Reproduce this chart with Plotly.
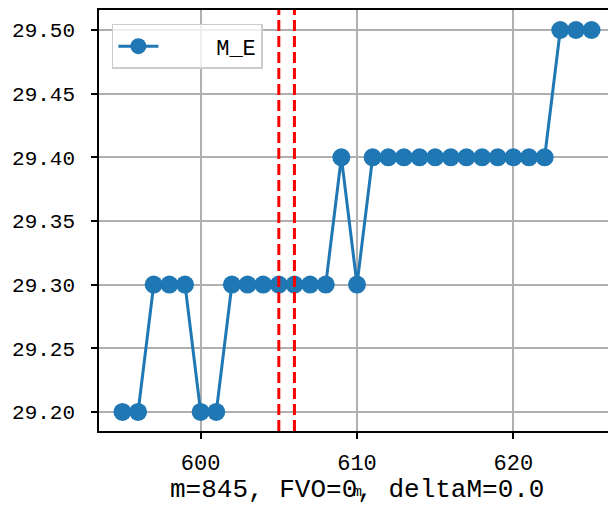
import plotly.graph_objects as go

m_values = list(range(595, 626))
me_values = [29.20, 29.20, 29.30, 29.30, 29.30, 29.20, 29.20, 29.30, 29.30, 29.30,
             29.30, 29.30, 29.30, 29.30, 29.40, 29.30, 29.40, 29.40, 29.40, 29.40,
             29.40, 29.40, 29.40, 29.40, 29.40, 29.40, 29.40, 29.40, 29.50, 29.50, 29.50]
vlines = [605, 606]
series_name = "M_E"
caption = "m=845, FVO=0, deltaM=0.0"
xlabel = "m"

FONT = "Liberation Mono"
NB = "\u00a0"

fig = go.Figure()
fig.add_trace(go.Scatter(
    x=m_values, y=me_values, mode="lines+markers", name=NB * 4 + series_name,
    line=dict(color="#1f77b4", width=3),
    marker=dict(color="#1f77b4", size=18),
))
for v in vlines:
    fig.add_shape(type="line", x0=v, x1=v, xref="x", y0=0, y1=1, yref="paper",
                  line=dict(color="red", width=3, dash="11px,5px"), layer="above")

fig.add_annotation(text=caption, xref="paper", yref="paper", x=0.5, y=-0.14,
                   xanchor="center", yanchor="middle", showarrow=False,
                   font=dict(family=FONT, size=26, color="black"))
fig.add_annotation(text=xlabel, xref="paper", yref="paper", x=0.5, y=-0.145,
                   xanchor="center", yanchor="middle", showarrow=False,
                   font=dict(family=FONT, size=15, color="black"))

axis_common = dict(
    showline=True, linecolor="black", linewidth=1.5, mirror=True,
    ticks="outside", ticklen=6, tickwidth=1.5, tickcolor="black",
    showgrid=True, gridcolor="#b0b0b0", gridwidth=1.5, zeroline=False,
    automargin=False,
)
fig.update_xaxes(range=[593.5, 626.5], tickvals=[600, 610, 620], ticklabelstandoff=5,
                 tickfont=dict(family=FONT, size=22, color="black"), **axis_common)
fig.update_yaxes(range=[29.185, 29.5157], tickvals=[29.20, 29.25, 29.30, 29.35, 29.40, 29.45, 29.50],
                 tickformat=".2f", ticklabelstandoff=12,
                 tickfont=dict(family=FONT, size=21, color="black"), **axis_common)

fig.update_layout(
    width=608, height=497,
    margin=dict(l=91, r=1, t=2, b=74),
    plot_bgcolor="white", paper_bgcolor="white",
    showlegend=True,
    legend=dict(x=0.025, y=0.967, xanchor="left", yanchor="top",
                bgcolor="rgba(255,255,255,0.8)", bordercolor="#cccccc", borderwidth=1.5,
                font=dict(family=FONT, size=22, color="black"),
                itemwidth=40),
)
fig.write_html("out.html")
